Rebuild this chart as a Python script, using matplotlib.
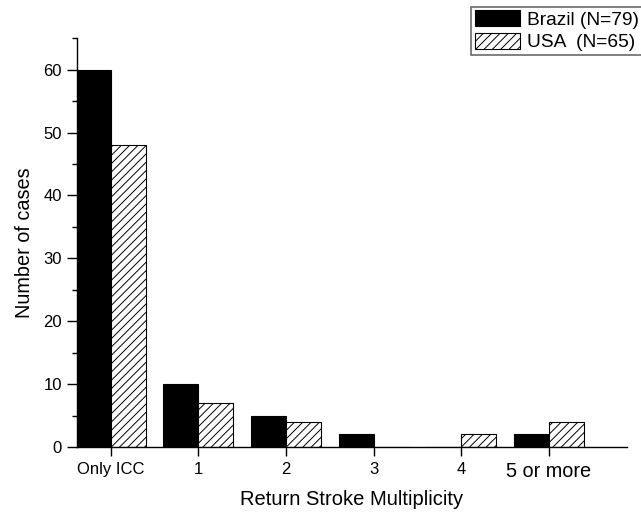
import matplotlib
matplotlib.use("Agg")
import matplotlib.pyplot as plt
import numpy as np
from matplotlib.ticker import MultipleLocator

plt.rcParams['font.family'] = ['Liberation Sans', 'DejaVu Sans']
plt.rcParams['hatch.linewidth'] = 0.7

categories = ["Only ICC", "1", "2", "3", "4", "5 or more"]
brazil = [60, 10, 5, 2, 0, 2]
usa = [48, 7, 4, 0, 2, 4]
labels = ["Brazil (N=79)", "USA  (N=65)"]

fig = plt.figure(figsize=(6.41, 5.13), dpi=100)
ax = fig.add_axes([0.1197, 0.1287, 0.858, 0.7966])

x = np.arange(len(categories))
w = 0.4
b1 = ax.bar(x - w / 2, brazil, w, color="black", edgecolor="black", linewidth=0.8, label=labels[0])
b2 = ax.bar(x + w / 2, usa, w, color="white", edgecolor="black", linewidth=0.8, hatch="////", label=labels[1])

ax.set_xlim(-0.39, 5.89)
ax.set_ylim(0, 65)
ax.set_xticks(x)
ax.set_xticklabels(categories, fontsize=12)
ax.get_xticklabels()[-1].set_fontsize(14.3)
ax.yaxis.set_major_locator(MultipleLocator(10))
ax.yaxis.set_minor_locator(MultipleLocator(5))
ax.tick_params(axis='y', which='major', length=7.2, width=1, labelsize=12, direction='out', pad=3.5)
ax.tick_params(axis='y', which='minor', length=3.6, width=1, direction='out')
ax.tick_params(axis='x', which='major', length=6.5, width=1, direction='out', pad=4)
for s in ['top', 'right']:
    ax.spines[s].set_visible(False)
for s in ['left', 'bottom']:
    ax.spines[s].set_linewidth(1)

ax.set_xlabel("Return Stroke Multiplicity", fontsize=14.5, labelpad=7)
ax.set_ylabel("Number of cases", fontsize=14.3, labelpad=7)

leg = fig.legend(handles=[b1, b2], labels=labels, loc='upper left',
                 bbox_to_anchor=(471 / 641, 1 - 6.5 / 513), fontsize=13.8,
                 fancybox=False, frameon=True, edgecolor='#444444',
                 handlelength=2.35, handleheight=0.88, handletextpad=0.35,
                 borderpad=0.2, labelspacing=0.22, borderaxespad=0)
leg.get_frame().set_linewidth(1.2)

fig.savefig("out.png", dpi=100)
